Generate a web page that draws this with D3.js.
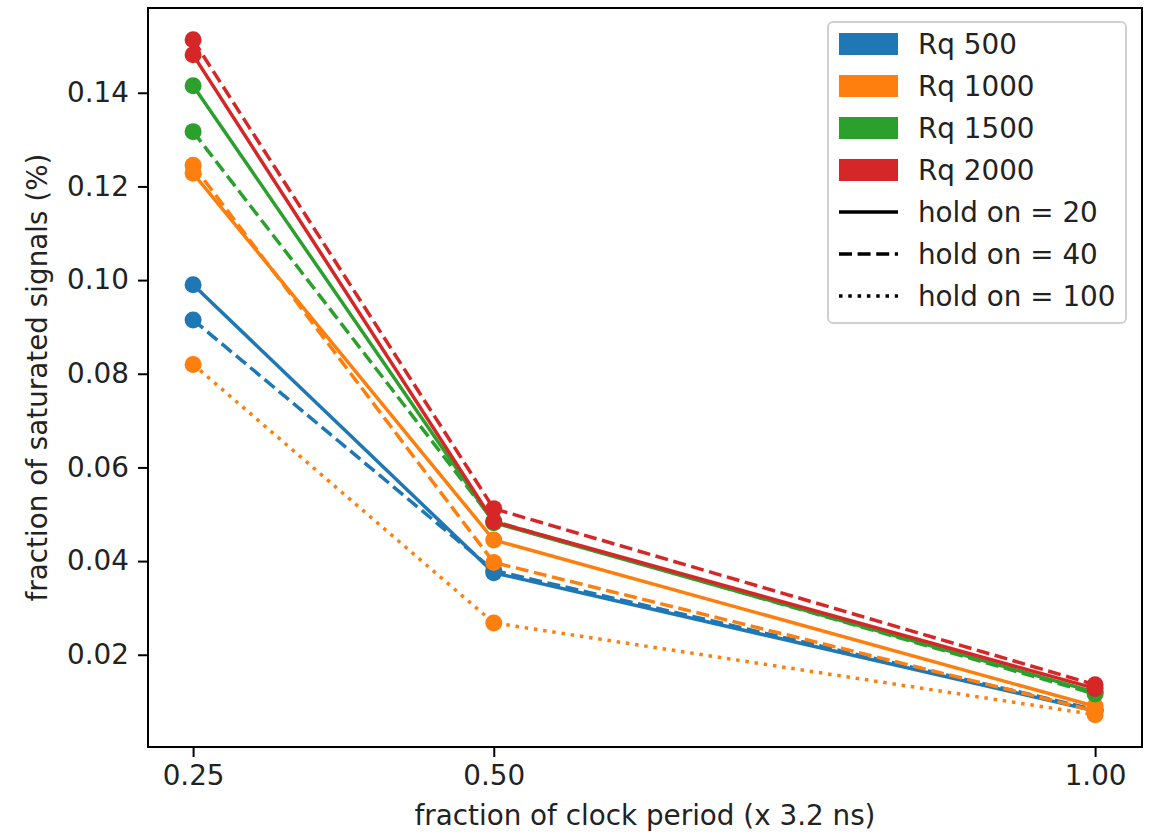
<!DOCTYPE html>
<html>
<head>
<meta charset="utf-8">
<script src="https://cdn.jsdelivr.net/npm/d3@7"></script>
<style>
  html, body { margin: 0; padding: 0; background: #fff; }
  svg { display: block; font-family: "DejaVu Sans", sans-serif; }
</style>
</head>
<body>
<svg id="chart" width="1154" height="834"></svg>
<script>
// ---- data ----
const xValues = [0.25, 0.5, 1.0];
const xTickValues = [0.25, 0.5, 1.0];
const xTickLabels = ["0.25", "0.50", "1.00"];
const yTickValues = [0.02, 0.04, 0.06, 0.08, 0.10, 0.12, 0.14];
const yTickLabels = ["0.02", "0.04", "0.06", "0.08", "0.10", "0.12", "0.14"];

const rqNames = ["Rq 500", "Rq 1000", "Rq 1500", "Rq 2000"];
const holdNames = ["hold on = 20", "hold on = 40", "hold on = 100"];

const rq500_hold40 = [0.0915, 0.0380, 0.0083];
const rq500_hold20 = [0.0990, 0.0375, 0.0080];
const rq1000_hold100 = [0.0820, 0.0268, 0.0072];
const rq1000_hold40 = [0.1245, 0.0397, 0.0080];
const rq1000_hold20 = [0.1228, 0.0445, 0.0090];
const rq1500_hold40 = [0.1317, 0.0485, 0.0116];
const rq1500_hold20 = [0.1415, 0.0482, 0.0120];
const rq2000_hold40 = [0.1513, 0.0512, 0.0136];
const rq2000_hold20 = [0.1481, 0.0484, 0.0128];

const seriesList = [
  { rq: 0, hold: 1, values: rq500_hold40 },
  { rq: 0, hold: 0, values: rq500_hold20 },
  { rq: 1, hold: 2, values: rq1000_hold100 },
  { rq: 1, hold: 1, values: rq1000_hold40 },
  { rq: 1, hold: 0, values: rq1000_hold20 },
  { rq: 2, hold: 1, values: rq1500_hold40 },
  { rq: 2, hold: 0, values: rq1500_hold20 },
  { rq: 3, hold: 1, values: rq2000_hold40 },
  { rq: 3, hold: 0, values: rq2000_hold20 }
];

// ---- styles ----
const colors = ["#1f77b4", "#ff7f0e", "#2ca02c", "#d62728"];
const LW = 3.5;
const dashes = [null, "13,5.6", "3.5,5.8"];
const FS = 27.8;

const svg = d3.select("#chart");
const mLeft = 148, mRight = 1142, mTop = 8, mBottom = 747;

const x = d3.scaleLinear().domain([0.2125, 1.039]).range([mLeft, mRight]);
const y = d3.scaleLinear().domain([0.0003, 0.1581]).range([mBottom, mTop]);

// axes
const xAxis = d3.axisBottom(x).tickValues(xTickValues)
  .tickFormat((d, i) => xTickLabels[i]).tickSize(10).tickPadding(8);
const yAxis = d3.axisLeft(y).tickValues(yTickValues)
  .tickFormat((d, i) => yTickLabels[i]).tickSize(10).tickPadding(9);

const gx = svg.append("g").attr("transform", `translate(0,${mBottom})`).call(xAxis);
const gy = svg.append("g").attr("transform", `translate(${mLeft},0)`).call(yAxis);
[gx, gy].forEach(g => {
  g.select(".domain").remove();
  g.selectAll(".tick line").attr("stroke", "#000").attr("stroke-width", 2);
  g.selectAll(".tick text").attr("fill", "#222").attr("font-size", FS)
    .attr("font-family", "DejaVu Sans");
});

// lines and markers
const line = d3.line().x((d, i) => x(xValues[i])).y(d => y(d));
const plot = svg.append("g");
seriesList.forEach(s => {
  const g = plot.append("g");
  g.append("path")
    .attr("d", line(s.values))
    .attr("fill", "none")
    .attr("stroke", colors[s.rq])
    .attr("stroke-width", LW)
    .attr("stroke-dasharray", dashes[s.hold])
    .attr("stroke-linecap", s.hold === 0 ? "square" : "butt");
  g.selectAll("circle").data(s.values).enter().append("circle")
    .attr("cx", (d, i) => x(xValues[i]))
    .attr("cy", d => y(d))
    .attr("r", 8.5)
    .attr("fill", colors[s.rq]);
});

// frame
svg.append("rect")
  .attr("x", mLeft).attr("y", mTop)
  .attr("width", mRight - mLeft).attr("height", mBottom - mTop)
  .attr("fill", "none").attr("stroke", "#000").attr("stroke-width", 2);

// axis labels
svg.append("text")
  .attr("x", (mLeft + mRight) / 2).attr("y", 825)
  .attr("text-anchor", "middle").attr("font-size", FS).attr("fill", "#222")
  .text("fraction of clock period (x 3.2 ns)");
svg.append("text")
  .attr("transform", `translate(47,${(mTop + mBottom) / 2}) rotate(-90)`)
  .attr("text-anchor", "middle").attr("font-size", FS).attr("fill", "#222")
  .text("fraction of saturated signals (%)");

// legend
const lg = svg.append("g");
lg.append("rect")
  .attr("x", 828).attr("y", 22).attr("width", 298).attr("height", 301)
  .attr("rx", 5).attr("ry", 5)
  .attr("fill", "#fff").attr("fill-opacity", 0.8)
  .attr("stroke", "#d0d0d0").attr("stroke-width", 2);
const rowY = i => 44 + i * 42;
rqNames.forEach((name, i) => {
  lg.append("rect").attr("x", 839).attr("y", rowY(i) - 11)
    .attr("width", 59).attr("height", 22).attr("fill", colors[i]);
  lg.append("text").attr("x", 918).attr("y", rowY(i)).attr("dy", "0.35em")
    .attr("font-size", FS).attr("fill", "#222").text(name);
});
holdNames.forEach((name, j) => {
  const i = j + 4;
  lg.append("line").attr("x1", 839).attr("x2", 898)
    .attr("y1", rowY(i)).attr("y2", rowY(i))
    .attr("stroke", "#000").attr("stroke-width", LW)
    .attr("stroke-dasharray", dashes[j]);
  lg.append("text").attr("x", 918).attr("y", rowY(i)).attr("dy", "0.35em")
    .attr("font-size", FS).attr("fill", "#222").text(name);
});
</script>
</body>
</html>
